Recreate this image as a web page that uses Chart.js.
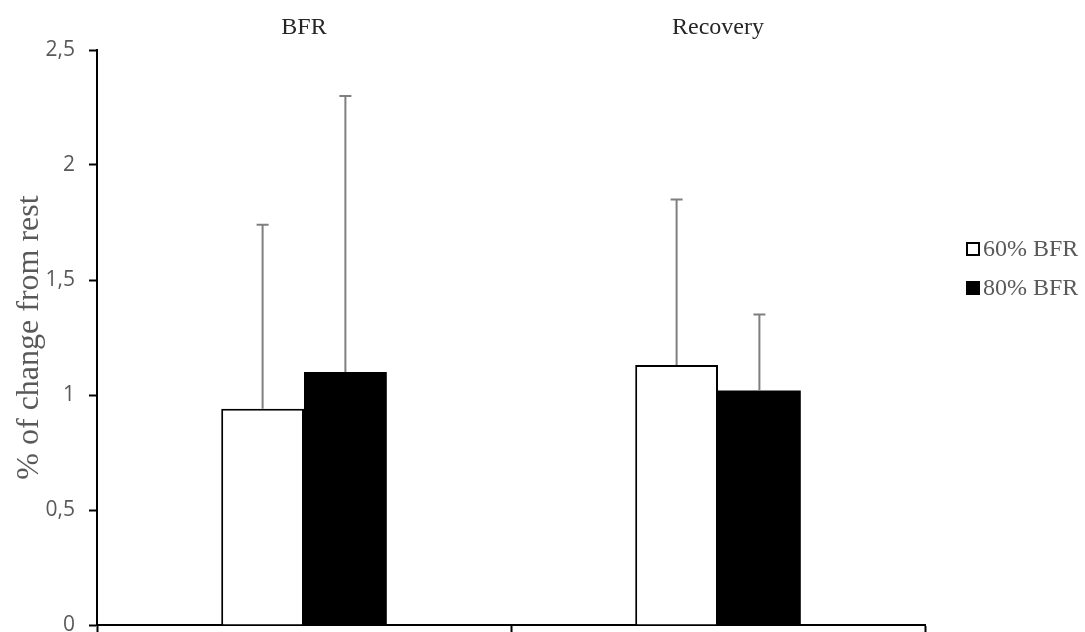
<!DOCTYPE html>
<html>
<head>
<meta charset="utf-8">
<script src="https://cdn.jsdelivr.net/npm/chart.js@4/dist/chart.umd.min.js"></script>
<style>
  html, body { margin: 0; padding: 0; background: #fff; }
  #wrap { width: 1085px; height: 632px; }
</style>
</head>
<body>
<div id="wrap"><canvas id="barChart"></canvas></div>
<script>
// data
var phases = ['BFR', 'Recovery'];
var seriesNames = ['60% BFR', '80% BFR'];
var mean60 = [0.94, 1.13];
var sd60 = [0.80, 0.72];
var mean80 = [1.10, 1.02];
var sd80 = [1.20, 0.33];
var yTicks = [0, 0.5, 1, 1.5, 2, 2.5];

// draws the upper error bars from each bar top
var errorBars = {
    id: 'errorBars',
    afterDatasetsDraw: function(chart) {
        var ctx = chart.ctx;
        var yScale = chart.scales.y;
        ctx.save();
        ctx.strokeStyle = '#7f7f7f';
        ctx.lineWidth = 2;
        chart.data.datasets.forEach(function(ds, i) {
            var meta = chart.getDatasetMeta(i);
            meta.data.forEach(function(bar, j) {
                var top = yScale.getPixelForValue(ds.data[j] + ds.errors[j]);
                ctx.beginPath();
                ctx.moveTo(bar.x, bar.y);
                ctx.lineTo(bar.x, top);
                ctx.moveTo(bar.x - 6, top);
                ctx.lineTo(bar.x + 6, top);
                ctx.stroke();
            });
        });
        ctx.restore();
    }
};

// legend on the right, square marker + label
var sideLegend = {
    id: 'sideLegend',
    afterDraw: function(chart) {
        var ctx = chart.ctx;
        var area = chart.chartArea;
        ctx.save();
        ctx.font = '24px "Liberation Serif"';
        ctx.textBaseline = 'middle';
        chart.data.datasets.forEach(function(ds, i) {
            var x = area.right + 42;
            var y = area.top + 199 + i * 39;
            ctx.fillStyle = ds.backgroundColor;
            ctx.fillRect(x, y - 6, 12, 12);
            ctx.strokeStyle = '#000000';
            ctx.lineWidth = 2;
            ctx.strokeRect(x, y - 6, 12, 12);
            ctx.fillStyle = '#595959';
            ctx.fillText(ds.label, x + 16, y + 1);
        });
        ctx.restore();
    }
};

var ctx = document.getElementById('barChart').getContext('2d');
var chart = new Chart(ctx, {
    type: 'bar',
    data: {
        labels: phases,
        datasets: [{
            label: seriesNames[0],
            data: mean60,
            errors: sd60,
            backgroundColor: '#ffffff',
            borderColor: '#000000',
            borderWidth: 2,
            categoryPercentage: 0.4,
            barPercentage: 1.0
        }, {
            label: seriesNames[1],
            data: mean80,
            errors: sd80,
            backgroundColor: '#000000',
            borderColor: '#000000',
            borderWidth: 0,
            categoryPercentage: 0.4,
            barPercentage: 1.0
        }]
    },
    options: {
        responsive: true,
        maintainAspectRatio: false,
        animation: false,
        layout: { padding: { right: 160 } },
        plugins: {
            tooltip: { enabled: false },
            legend: { display: false }
        },
        scales: {
            x: {
                position: 'bottom',
                offset: true,
                ticks: { display: false },
                grid: {
                    display: true,
                    offset: true,
                    drawOnChartArea: false,
                    drawTicks: true,
                    tickLength: 7,
                    tickWidth: 2,
                    tickColor: '#000000'
                },
                border: { color: '#000000', width: 2 },
                afterFit: function(axis) { axis.height = 7; }
            },
            x2: {
                position: 'top',
                type: 'category',
                offset: true,
                grid: { display: false },
                border: { display: false },
                ticks: {
                    color: '#262626',
                    font: { family: 'Liberation Serif', size: 24 },
                    padding: 0
                },
                afterFit: function(axis) { axis.height = 50; }
            },
            y: {
                min: 0,
                max: 2.5,
                afterBuildTicks: function(axis) {
                    axis.ticks = yTicks.map(function(v) { return { value: v }; });
                },
                ticks: {
                    color: '#595959',
                    font: { family: 'Open Sans', size: 21 },
                    padding: 14,
                    callback: function(v) { return String(v).replace('.', ','); }
                },
                grid: {
                    drawOnChartArea: false,
                    drawTicks: true,
                    tickLength: 8,
                    tickWidth: 2,
                    tickColor: '#000000'
                },
                border: { color: '#000000', width: 2 },
                title: {
                    display: true,
                    text: '% of change from rest',
                    color: '#595959',
                    font: { family: 'Liberation Serif', size: 32 },
                    padding: { top: 10, bottom: 0 }
                },
                afterFit: function(axis) {
                    axis.width = 97;
                    axis.paddingTop = 0;
                    axis.paddingBottom = 0;
                }
            }
        }
    },
    plugins: [errorBars, sideLegend]
});
</script>
</body>
</html>
